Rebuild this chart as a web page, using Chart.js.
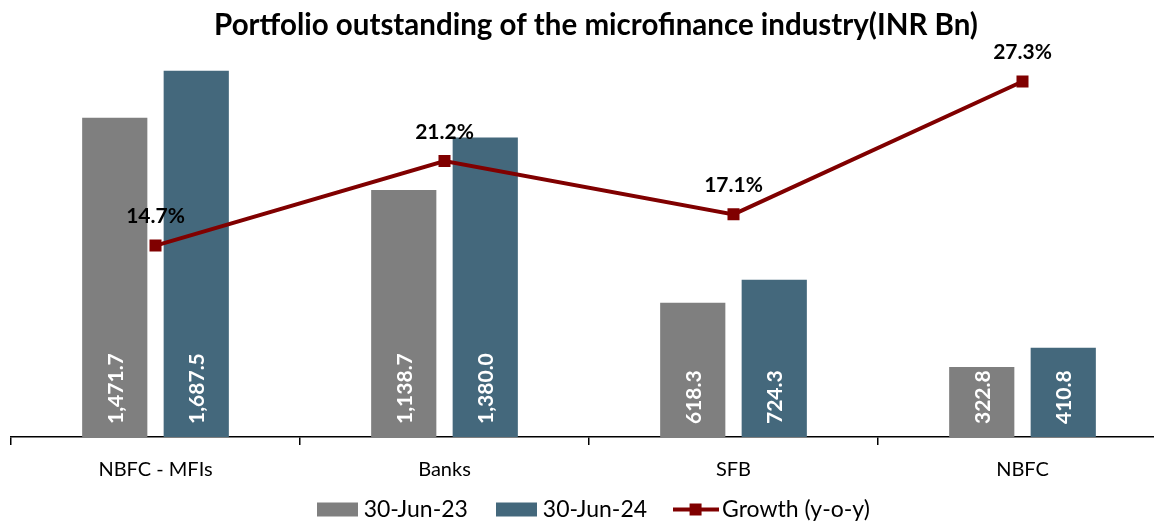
<!DOCTYPE html>
<html>
<head>
<meta charset="utf-8">
<script src="https://cdn.jsdelivr.net/npm/chart.js@4.4.1/dist/chart.umd.min.js"></script>
<style>
    html, body { margin: 0; padding: 0; overflow: hidden; background: #fff; }
    #wrap { width: 1192px; height: 531px; }
</style>
</head>
<body>
<div id="wrap"><canvas id="chart" width="1192" height="531"></canvas></div>
<script>
// Datos del gráfico.
const categories = ['NBFC - MFIs', 'Banks', 'SFB', 'NBFC'];
const jun23 = [1471.7, 1138.7, 618.3, 322.8];
const jun24 = [1687.5, 1380.0, 724.3, 410.8];
const growth = [14.7, 21.2, 17.1, 27.3];
const seriesNames = ['30-Jun-23', '30-Jun-24', 'Growth (y-o-y)'];

const FONT = 'Lato, "Open Sans", sans-serif';
const GREY = '#7f7f7f';
const BLUE = '#44687c';
const RED = '#800000';

/*
*   Muestra de leyenda dibujada en un lienzo pequeño.
*/
const makeSwatch = (kind, color) => {
    const c = document.createElement('canvas');
    c.width = kind === 'bar' ? 41 : 46;
    c.height = 18;
    const g = c.getContext('2d');
    if (kind === 'bar') {
        g.fillStyle = color;
        g.fillRect(0, 2, 41, 14);
    } else {
        g.strokeStyle = color;
        g.lineWidth = 4;
        g.beginPath();
        g.moveTo(0, 9);
        g.lineTo(46, 9);
        g.stroke();
        g.fillStyle = color;
        g.fillRect(17, 3, 12, 12);
    }
    return c;
};
const swatches = [makeSwatch('bar', GREY), makeSwatch('bar', BLUE), makeSwatch('line', RED)];

const fmt = (v) => v.toLocaleString('en-US', { minimumFractionDigits: 1, maximumFractionDigits: 1 });

// Plugin para las etiquetas de valores.
const valueLabels = {
    id: 'valueLabels',
    afterDatasetsDraw(chart) {
        const ctx = chart.ctx;
        chart.data.datasets.forEach((ds, i) => {
            const meta = chart.getDatasetMeta(i);
            meta.data.forEach((el, j) => {
                const v = ds.data[j];
                ctx.save();
                if (ds.type === 'line') {
                    ctx.font = 'bold 21px ' + FONT;
                    ctx.fillStyle = '#000';
                    ctx.textAlign = 'center';
                    ctx.textBaseline = 'middle';
                    ctx.fillText(v.toFixed(1) + '%', el.x, el.y - 29);
                } else {
                    ctx.translate(el.x, el.base - 13);
                    ctx.rotate(-Math.PI / 2);
                    ctx.font = 'bold 21px ' + FONT;
                    ctx.fillStyle = '#fff';
                    ctx.textAlign = 'left';
                    ctx.textBaseline = 'middle';
                    ctx.fillText(fmt(v), 0, 1);
                }
                ctx.restore();
            });
        });
    }
};

const context = document.getElementById('chart').getContext('2d');
const chart = new Chart(context, {
    type: 'bar',
    data: {
        labels: categories,
        datasets: [{
            label: seriesNames[0],
            data: jun23,
            backgroundColor: GREY,
            categoryPercentage: 0.564,
            barPercentage: 0.8,
            yAxisID: 'y',
            order: 2
        }, {
            label: seriesNames[1],
            data: jun24,
            backgroundColor: BLUE,
            categoryPercentage: 0.564,
            barPercentage: 0.8,
            yAxisID: 'y',
            order: 2
        }, {
            type: 'line',
            label: seriesNames[2],
            data: growth,
            borderColor: RED,
            backgroundColor: RED,
            borderWidth: 4,
            pointStyle: 'rect',
            pointRadius: 8.5,
            pointHoverRadius: 8.5,
            pointBorderWidth: 0,
            tension: 0,
            yAxisID: 'y1',
            order: 1
        }]
    },
    options: {
        responsive: false,
        animation: false,
        layout: { padding: 0 },
        plugins: {
            title: {
                display: true,
                text: 'Portfolio outstanding of the microfinance industry(INR Bn)',
                color: '#000',
                font: { family: FONT, size: 29.5, weight: 'bold' },
                padding: { top: 8, bottom: 3 }
            },
            legend: {
                position: 'bottom',
                labels: {
                    usePointStyle: true,
                    pointStyleWidth: 30,
                    padding: 4,
                    color: '#000',
                    font: { family: FONT, size: 23 },
                    generateLabels: (chart) => {
                        const items = Chart.defaults.plugins.legend.labels.generateLabels(chart);
                        items.sort((a, b) => a.datasetIndex - b.datasetIndex);
                        return items.map((item, i) => {
                            item.pointStyle = swatches[item.datasetIndex];
                            if (i < items.length - 1) {
                                item.text = item.text + '     ';
                            }
                            return item;
                        });
                    }
                }
            },
            tooltip: { enabled: false }
        },
        scales: {
            x: {
                grid: {
                    display: true,
                    drawOnChartArea: false,
                    offset: true,
                    tickLength: 8,
                    color: '#000',
                    lineWidth: 1.5
                },
                border: { display: true, color: '#000', width: 1.5 },
                ticks: {
                    color: '#000',
                    padding: 12.5,
                    maxRotation: 0,
                    font: { family: FONT, size: 20 }
                }
            },
            y: {
                position: 'left',
                min: 0,
                max: 1800,
                grid: { display: false },
                border: { display: false },
                ticks: { display: false },
                afterFit: (scale) => { scale.width = 11; }
            },
            y1: {
                position: 'right',
                min: 0,
                max: 30,
                grid: { display: false },
                border: { display: false },
                ticks: { display: false },
                afterFit: (scale) => { scale.width = 25; }
            }
        }
    },
    plugins: [valueLabels]
});
</script>
</body>
</html>
